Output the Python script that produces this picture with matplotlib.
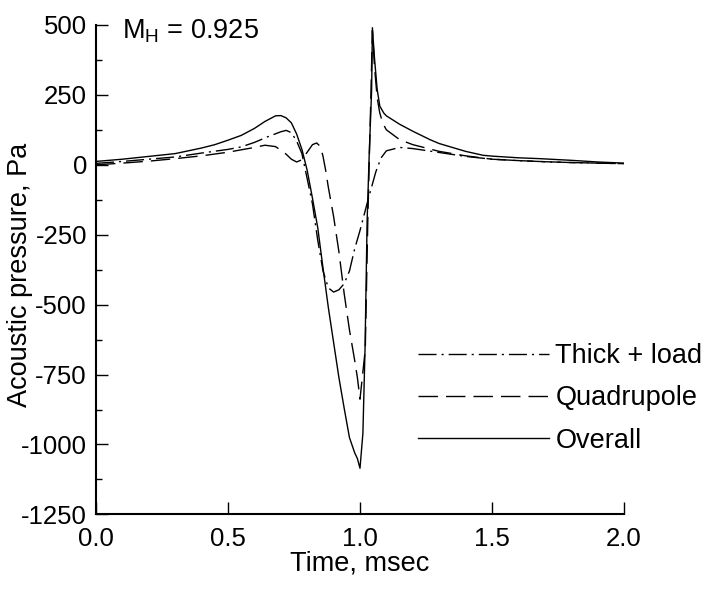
"""Acoustic pressure time history at M_H = 0.925: thickness+loading, quadrupole
and overall contributions."""

import matplotlib

matplotlib.use("Agg")
import matplotlib.pyplot as plt
from matplotlib.ticker import MultipleLocator

plt.rcParams["font.family"] = ["Liberation Sans", "DejaVu Sans"]
plt.rcParams["mathtext.fontset"] = "custom"
plt.rcParams["mathtext.rm"] = "Liberation Sans"
plt.rcParams["lines.scale_dashes"] = False

# Thick + load (dash-dot)
t_thick = [0.0, 0.1, 0.2, 0.3, 0.4, 0.5, 0.55, 0.6, 0.65, 0.7, 0.72, 0.74,
           0.76, 0.78, 0.80, 0.82, 0.84, 0.86, 0.88, 0.90, 0.92, 0.94, 0.96,
           0.98, 1.0, 1.03, 1.06, 1.08, 1.1, 1.15, 1.2, 1.3, 1.4, 1.5, 1.6,
           1.7, 1.8, 1.9, 2.0]
p_thick = [5, 12, 20, 28, 42, 55, 64, 80, 100, 118, 123, 115,
           85, 40, -50, -140, -270, -380, -440, -455, -447, -425, -380,
           -300, -235, -127, -25, 25, 50, 62, 58, 44, 30, 20, 15,
           11, 8, 6, 4]

# Quadrupole (dashed)
t_quad = [0.0, 0.1, 0.2, 0.3, 0.4, 0.5, 0.6, 0.64, 0.68, 0.70, 0.72, 0.74,
          0.76, 0.78, 0.80, 0.82, 0.836, 0.85, 0.86, 0.87, 0.88, 0.90, 0.92,
          0.94, 0.96, 0.98, 0.99, 1.0, 1.011, 1.02, 1.03, 1.04, 1.047, 1.055,
          1.065, 1.075, 1.087, 1.1, 1.15, 1.2, 1.25, 1.3, 1.4, 1.5, 1.6, 1.7,
          1.8, 1.9, 2.0]
p_quad = [0, 6, 13, 22, 32, 45, 62, 70, 65, 52, 38, 20,
          10, 18, 45, 72, 78, 65, 30, -20, -80, -185, -310,
          -460, -590, -700, -760, -838, -740, -660, -180, 200, 480, 350,
          240, 185, 147, 125, 90, 72, 60, 48, 32, 20, 15, 11,
          8, 6, 4]

# Overall (solid)
t_over = [0.0, 0.1, 0.2, 0.3, 0.4, 0.45, 0.5, 0.55, 0.6, 0.64, 0.68, 0.70,
          0.72, 0.74, 0.76, 0.78, 0.80, 0.82, 0.84, 0.86, 0.87, 0.88, 0.90,
          0.92, 0.94, 0.96, 0.98, 0.99, 1.0, 1.011, 1.019, 1.027, 1.035,
          1.044, 1.047, 1.055, 1.065, 1.075, 1.09, 1.1, 1.15, 1.2, 1.265,
          1.3, 1.35, 1.4, 1.466, 1.5, 1.6, 1.68, 1.8, 1.9, 2.0]
p_over = [12, 20, 30, 40, 60, 72, 88, 105, 130, 155, 175, 176,
          168, 150, 110, 55, -20, -120, -225, -370, -440, -510, -635,
          -760, -870, -975, -1030, -1050, -1085, -960, -662, -200, 40,
          266, 490, 380, 270, 210, 185, 175, 145, 120, 90,
          76, 62, 48, 34, 31, 25, 22, 16, 10, 6]

labels = ["Thick + load", "Quadrupole", "Overall"]

FS = 19.5

fig = plt.figure(figsize=(7.09, 5.94), dpi=100)
ax = fig.add_axes([0.1354, 0.134, 0.7447, 0.824])

lw = 1.0
ax.plot(t_thick, p_thick, color="black", lw=lw, dashes=(13, 3.6, 1.5, 3.6),
        label=labels[0])
ax.plot(t_quad, p_quad, color="black", lw=lw, dashes=(14, 5.8),
        label=labels[1])
ax.plot(t_over, p_over, color="black", lw=lw, label=labels[2])

ax.set_xlim(0.0, 2.0)
ax.set_ylim(-1250, 500)
ax.xaxis.set_major_locator(MultipleLocator(0.5))
ax.yaxis.set_major_locator(MultipleLocator(250))
ax.yaxis.set_minor_locator(MultipleLocator(125))
ax.xaxis.set_major_formatter(plt.FormatStrFormatter("%.1f"))
ax.yaxis.set_major_formatter(plt.FormatStrFormatter("%d"))

for spine in ("top", "right"):
    ax.spines[spine].set_visible(False)
for spine in ("left", "bottom"):
    ax.spines[spine].set_linewidth(1.5)

ax.tick_params(axis="both", which="major", direction="in", length=8.5,
               width=1.0, labelsize=18.5)
ax.tick_params(axis="both", which="minor", direction="in", length=4.3,
               width=1.0)
ax.tick_params(axis="y", which="major", pad=6.5)
ax.tick_params(axis="x", which="major", pad=9)

ax.set_xlabel("Time, msec", fontsize=FS, labelpad=0)
ax.set_ylabel("Acoustic pressure, Pa", fontsize=FS)
ax.yaxis.set_label_coords(-0.119, 0.49)

ax.text(0.05, 1.015, r"$\mathregular{M_H}$ = 0.925", transform=ax.transAxes,
        fontsize=FS, ha="left", va="top")

leg = ax.legend(loc="upper left", bbox_to_anchor=(0.61, 0.35), frameon=False,
                fontsize=FS, handlelength=4.85, handletextpad=0.22,
                labelspacing=0.6, borderpad=0, borderaxespad=0)
leg.set_clip_on(False)

fig.savefig("out.png", dpi=100)
